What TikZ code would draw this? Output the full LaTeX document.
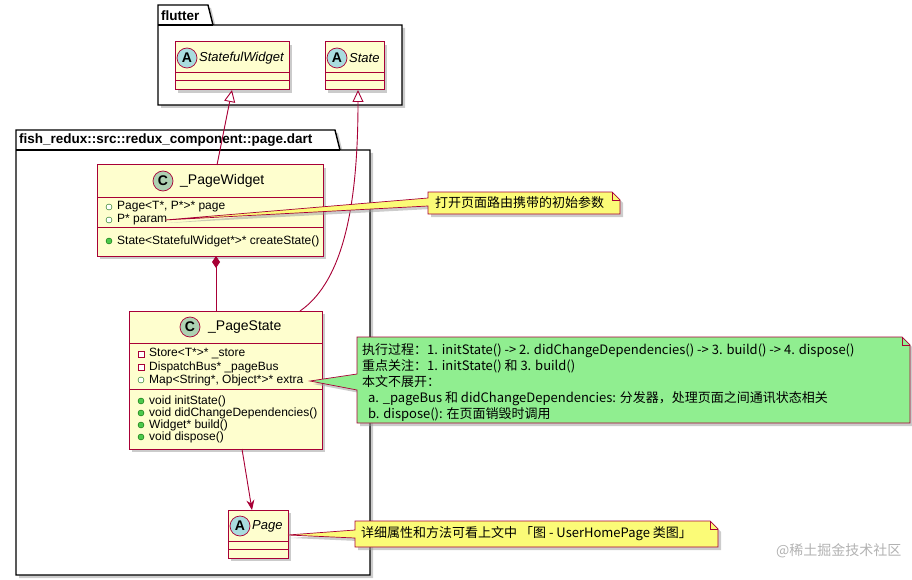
\documentclass[tikz,border=0pt]{standalone}
\usepackage{fontspec}
\setmainfont{Liberation Sans}
\newfontfamily\cjk{Noto Sans CJK SC}
\usetikzlibrary{arrows.meta,shadows,calc}
\definecolor{cfill}{HTML}{FEFECE}
\definecolor{cbord}{HTML}{A80036}
\definecolor{cc}{HTML}{ADD1B2}
\definecolor{ca}{HTML}{A9DCDF}
\definecolor{nyel}{HTML}{FBFB77}
\definecolor{ngrn}{HTML}{90EE90}
\tikzset{
  cls/.style={draw=cbord,fill=cfill,line width=1pt,drop shadow={shadow xshift=3pt,shadow yshift=-3pt,fill=black!40}},
  pkg/.style={draw=black,fill=white,line width=1.4pt,drop shadow={shadow xshift=3pt,shadow yshift=-3pt,fill=black!40}},
  sep/.style={draw=cbord,line width=1pt},
  circ/.style={circle,draw=cbord,line width=0.7pt,inner sep=0pt,minimum size=20pt,font=\bfseries\fontsize{14}{14}\selectfont},
  mem/.style={anchor=west,inner sep=0pt,font=\fontsize{12}{12}\selectfont},
  note/.style={draw=cbord,line width=0.7pt,drop shadow={shadow xshift=3pt,shadow yshift=-3pt,fill=black!40}},
  conn/.style={draw=cbord,line width=0.9pt},
  ntxt/.style={inner sep=0pt,font=\cjk\fontsize{13}{16}\selectfont},
}
\newcommand{\pubf}[1]{\node[circle,draw=black!60!green,fill=black!30!green!70,inner sep=0pt,minimum size=6pt] at #1 {};}
\newcommand{\pubo}[1]{\node[circle,draw=black!60!green,fill=white,inner sep=0pt,minimum size=6pt] at #1 {};}
\newcommand{\priv}[1]{\node[rectangle,draw=cbord,fill=white,inner sep=0pt,minimum size=6pt] at #1 {};}
\begin{document}
\begin{tikzpicture}[x=1pt,y=-1pt]
\useasboundingbox (0,0) rectangle (912,580);
% packages
\path[pkg] (158,25) -- (158,5) -- (208,5) -- (213,25) -- (402,25) -- (402,105) -- (158,105) -- cycle;
\draw[line width=1.4pt] (158,25) -- (213,25);
\node[font=\bfseries\fontsize{13.5}{14}\selectfont,anchor=west,inner sep=0pt] (pf) at (161,16) {flutter};
\path[pkg] (16,150) -- (16,130) -- (335,130) -- (340,150) -- (370,150) -- (370,575) -- (16,575) -- cycle;
\draw[line width=1.4pt] (16,150) -- (340,150);
\node[font=\bfseries\fontsize{13.5}{14}\selectfont,anchor=west,inner sep=0pt] (pr) at (19,140) {fish\_redux::src::redux\_component::page.dart};
% StatefulWidget
\path[cls] (175,42) rectangle (289,90);
\draw[sep] (175,73) -- (289,73) (175,81) -- (289,81);
\node[circ,fill=ca] at (187,58) {A};
\node[mem,font=\itshape\fontsize{13}{12}\selectfont] (sw) at (199,58) {StatefulWidget};
\coordinate (swb) at (232,90);
% State
\path[cls] (325,42) rectangle (384,90);
\draw[sep] (325,73) -- (384,73) (325,81) -- (384,81);
\node[circ,fill=ca] at (337,58) {A};
\node[mem,font=\itshape\fontsize{13}{12}\selectfont] (st) at (349,58) {State};
\coordinate (stb) at (358,90);
% _PageWidget
\path[cls] (97,165) rectangle (323,256);
\draw[sep] (97,197) -- (323,197) (97,227) -- (323,227);
\node[circ,fill=cc] at (163,181) {C};
\node[mem,font=\fontsize{14}{14}\selectfont] (pw) at (180,181) {\_PageWidget};
\pubo{(109,207)}\node[mem] at (117,207) {Page<T*, P*>* page};
\pubo{(109,220)}\node[mem] (param) at (117,220) {P* param};
\pubf{(109,241)}\node[mem] at (117,241) {State<StatefulWidget*>* createState()};
\coordinate (pwt) at (217,165);
\coordinate (pwb) at (216,256);
% _PageState
\path[cls] (129,311) rectangle (322,449);
\draw[sep] (129,343) -- (322,343) (129,389) -- (322,389);
\node[circ,fill=cc] at (190,327) {C};
\node[mem,font=\fontsize{14}{14}\selectfont] (ps) at (208,327) {\_PageState};
\priv{(141,354)}\node[mem] at (149,354) {Store<T*>* \_store};
\priv{(141,367)}\node[mem] at (149,367) {DispatchBus* \_pageBus};
\pubo{(141,380)}\node[mem] (extra) at (149,380) {Map<String*, Object*>* extra};
\pubf{(141,401)}\node[mem] at (149,401) {void initState()};
\pubf{(141,413)}\node[mem] at (149,413) {void didChangeDependencies()};
\pubf{(141,425)}\node[mem] at (149,425) {Widget* build()};
\pubf{(141,437)}\node[mem] at (149,437) {void dispose()};
\coordinate (pst) at (216,311);
\coordinate (pst2) at (300,311);
\coordinate (psb) at (242,449);
% Page
\path[cls] (228,510) rectangle (288,558);
\draw[sep] (228,541) -- (288,541) (228,549) -- (288,549);
\node[circ,fill=ca] at (240,526) {A};
\node[mem,font=\itshape\fontsize{13}{12}\selectfont] (pg) at (252,526) {Page};
\coordinate (pgt) at (252,510);
\coordinate (pgr) at (288,535);
% connectors
\draw[conn,-{Triangle[open,length=12pt,width=11pt]}] (pwt) -- (swb);
\draw[conn,-{Triangle[open,length=12pt,width=11pt]}] (pst2) .. controls (345,280) and (358,200) .. (stb);
\draw[conn,{Diamond[length=12pt,width=8pt,fill=cbord]}-] (pwb) -- (pst);
\draw[conn,-{Stealth[length=10pt,width=8pt]}] (psb) -- (pgt);
% notes
\path[note,fill=nyel] (165,220) -- (428,198) -- (428,192) -- (612,192) -- (620,200) -- (620,214) -- (428,214) -- (428,206) -- cycle;
\draw[cbord,line width=0.7pt] (612,192) -- (612,200) -- (620,200);
\node[ntxt,anchor=west] (n1) at (435,203) {打开页面路由携带的初始参数};
\path[note,fill=ngrn] (310,381) -- (357,374) -- (357,337) -- (902,337) -- (910,345) -- (910,423) -- (357,423) -- (357,390) -- cycle;
\draw[cbord,line width=0.7pt] (902,337) -- (902,345) -- (910,345);
\node[ntxt,anchor=north west,align=left] (n2) at (362,343) {执行过程：1. initState() -> 2. didChangeDependencies() -> 3. build() -> 4. dispose()\\重点关注：1. initState() 和 3. build()\\本文不展开：\\\ \ a. \_pageBus 和 didChangeDependencies: 分发器，处理页面之间通讯状态相关\\\ \ b. dispose(): 在页面销毁时调用};
\path[note,fill=nyel] (pgr) -- (355,530) -- (355,521) -- (710,521) -- (718,529) -- (718,547) -- (355,547) -- (355,538) -- cycle;
\draw[cbord,line width=0.7pt] (710,521) -- (710,529) -- (718,529);
\node[ntxt,anchor=west] (n3) at (361,534) {详细属性和方法可看上文中 「图 - UserHomePage 类图」};
\node[anchor=east,text=black!30,font=\cjk\fontsize{14}{14}\selectfont] (wm) at (905,551) {@稀土掘金技术社区};
\end{tikzpicture}
\end{document}
